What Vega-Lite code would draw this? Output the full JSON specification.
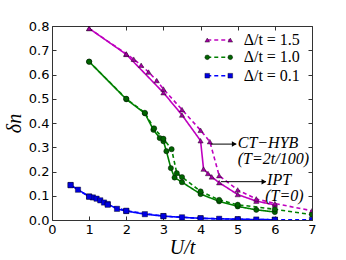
{
  "$schema": "https://vega.github.io/schema/vega-lite/v6.json",
  "autosize": "none",
  "width": 260,
  "height": 194,
  "padding": {"left": 52, "top": 26, "right": 34, "bottom": 40},
  "background": "white",
  "config": {
    "view": {"stroke": null},
    "axis": {"labelFont": "DejaVu Sans", "labelFontSize": 13, "labelColor": "black", "tickColor": "#333", "domain": true, "domainColor": "#333", "domainWidth": 1, "grid": false, "tickSize": -4, "labelPadding": 7, "labelOverlap": false, "labelFlush": false, "titleFont": "Liberation Serif", "titleFontStyle": "italic", "titleFontWeight": "normal", "titleFontSize": 20, "titleColor": "black"}
  },
  "datasets": {
    "main": [
      {"U": 1.0, "dn": 0.79, "delta": "1.5", "method": "HYB"},
      {"U": 2.0, "dn": 0.683, "delta": "1.5", "method": "HYB"},
      {"U": 3.0, "dn": 0.525, "delta": "1.5", "method": "HYB"},
      {"U": 3.5, "dn": 0.433, "delta": "1.5", "method": "HYB"},
      {"U": 4.0, "dn": 0.327, "delta": "1.5", "method": "HYB"},
      {"U": 4.08, "dn": 0.21, "delta": "1.5", "method": "HYB"},
      {"U": 4.2, "dn": 0.192, "delta": "1.5", "method": "HYB"},
      {"U": 4.3, "dn": 0.178, "delta": "1.5", "method": "HYB"},
      {"U": 4.5, "dn": 0.154, "delta": "1.5", "method": "HYB"},
      {"U": 5.0, "dn": 0.105, "delta": "1.5", "method": "HYB"},
      {"U": 5.5, "dn": 0.078, "delta": "1.5", "method": "HYB"},
      {"U": 6.0, "dn": 0.062, "delta": "1.5", "method": "HYB"},
      {"U": 1.0, "dn": 0.79, "delta": "1.5", "method": "IPT"},
      {"U": 2.0, "dn": 0.685, "delta": "1.5", "method": "IPT"},
      {"U": 2.2, "dn": 0.663, "delta": "1.5", "method": "IPT"},
      {"U": 2.4, "dn": 0.638, "delta": "1.5", "method": "IPT"},
      {"U": 2.6, "dn": 0.61, "delta": "1.5", "method": "IPT"},
      {"U": 2.82, "dn": 0.575, "delta": "1.5", "method": "IPT"},
      {"U": 3.0, "dn": 0.54, "delta": "1.5", "method": "IPT"},
      {"U": 3.5, "dn": 0.455, "delta": "1.5", "method": "IPT"},
      {"U": 4.0, "dn": 0.37, "delta": "1.5", "method": "IPT"},
      {"U": 4.25, "dn": 0.323, "delta": "1.5", "method": "IPT"},
      {"U": 4.5, "dn": 0.183, "delta": "1.5", "method": "IPT"},
      {"U": 5.0, "dn": 0.124, "delta": "1.5", "method": "IPT"},
      {"U": 5.5, "dn": 0.087, "delta": "1.5", "method": "IPT"},
      {"U": 6.0, "dn": 0.068, "delta": "1.5", "method": "IPT"},
      {"U": 7.0, "dn": 0.038, "delta": "1.5", "method": "IPT"},
      {"U": 1.0, "dn": 0.653, "delta": "1.0", "method": "HYB"},
      {"U": 2.0, "dn": 0.498, "delta": "1.0", "method": "HYB"},
      {"U": 2.5, "dn": 0.44, "delta": "1.0", "method": "HYB"},
      {"U": 2.73, "dn": 0.372, "delta": "1.0", "method": "HYB"},
      {"U": 2.9, "dn": 0.338, "delta": "1.0", "method": "HYB"},
      {"U": 3.0, "dn": 0.325, "delta": "1.0", "method": "HYB"},
      {"U": 3.08, "dn": 0.284, "delta": "1.0", "method": "HYB"},
      {"U": 3.2, "dn": 0.214, "delta": "1.0", "method": "HYB"},
      {"U": 3.3, "dn": 0.175, "delta": "1.0", "method": "HYB"},
      {"U": 3.5, "dn": 0.156, "delta": "1.0", "method": "HYB"},
      {"U": 4.0, "dn": 0.107, "delta": "1.0", "method": "HYB"},
      {"U": 4.5, "dn": 0.077, "delta": "1.0", "method": "HYB"},
      {"U": 5.0, "dn": 0.056, "delta": "1.0", "method": "HYB"},
      {"U": 5.5, "dn": 0.042, "delta": "1.0", "method": "HYB"},
      {"U": 6.0, "dn": 0.033, "delta": "1.0", "method": "HYB"},
      {"U": 1.0, "dn": 0.653, "delta": "1.0", "method": "IPT"},
      {"U": 2.0, "dn": 0.5, "delta": "1.0", "method": "IPT"},
      {"U": 2.5, "dn": 0.442, "delta": "1.0", "method": "IPT"},
      {"U": 2.75, "dn": 0.378, "delta": "1.0", "method": "IPT"},
      {"U": 3.0, "dn": 0.335, "delta": "1.0", "method": "IPT"},
      {"U": 3.22, "dn": 0.292, "delta": "1.0", "method": "IPT"},
      {"U": 3.36, "dn": 0.193, "delta": "1.0", "method": "IPT"},
      {"U": 3.5, "dn": 0.177, "delta": "1.0", "method": "IPT"},
      {"U": 4.0, "dn": 0.118, "delta": "1.0", "method": "IPT"},
      {"U": 4.5, "dn": 0.083, "delta": "1.0", "method": "IPT"},
      {"U": 5.0, "dn": 0.063, "delta": "1.0", "method": "IPT"},
      {"U": 6.0, "dn": 0.044, "delta": "1.0", "method": "IPT"},
      {"U": 7.0, "dn": 0.022, "delta": "1.0", "method": "IPT"},
      {"U": 0.5, "dn": 0.144, "delta": "0.1", "method": "HYB"},
      {"U": 0.7, "dn": 0.125, "delta": "0.1", "method": "HYB"},
      {"U": 1.0, "dn": 0.097, "delta": "0.1", "method": "HYB"},
      {"U": 1.1, "dn": 0.093, "delta": "0.1", "method": "HYB"},
      {"U": 1.2, "dn": 0.088, "delta": "0.1", "method": "HYB"},
      {"U": 1.3, "dn": 0.081, "delta": "0.1", "method": "HYB"},
      {"U": 1.4, "dn": 0.072, "delta": "0.1", "method": "HYB"},
      {"U": 1.5, "dn": 0.066, "delta": "0.1", "method": "HYB"},
      {"U": 1.75, "dn": 0.046, "delta": "0.1", "method": "HYB"},
      {"U": 2.0, "dn": 0.037, "delta": "0.1", "method": "HYB"},
      {"U": 2.5, "dn": 0.024, "delta": "0.1", "method": "HYB"},
      {"U": 3.0, "dn": 0.016, "delta": "0.1", "method": "HYB"},
      {"U": 3.5, "dn": 0.011, "delta": "0.1", "method": "HYB"},
      {"U": 4.0, "dn": 0.007, "delta": "0.1", "method": "HYB"},
      {"U": 4.5, "dn": 0.005, "delta": "0.1", "method": "HYB"},
      {"U": 5.0, "dn": 0.003, "delta": "0.1", "method": "HYB"},
      {"U": 5.5, "dn": 0.002, "delta": "0.1", "method": "HYB"},
      {"U": 6.0, "dn": 0.001, "delta": "0.1", "method": "HYB"},
      {"U": 0.5, "dn": 0.144, "delta": "0.1", "method": "IPT"},
      {"U": 1.0, "dn": 0.096, "delta": "0.1", "method": "IPT"},
      {"U": 1.5, "dn": 0.063, "delta": "0.1", "method": "IPT"},
      {"U": 2.0, "dn": 0.038, "delta": "0.1", "method": "IPT"},
      {"U": 3.0, "dn": 0.016, "delta": "0.1", "method": "IPT"},
      {"U": 4.0, "dn": 0.007, "delta": "0.1", "method": "IPT"},
      {"U": 5.0, "dn": 0.003, "delta": "0.1", "method": "IPT"},
      {"U": 6.0, "dn": 0.001, "delta": "0.1", "method": "IPT"},
      {"U": 7.0, "dn": 0.0005, "delta": "0.1", "method": "IPT"}
    ],
    "legend": [
      {"delta": "1.5", "ly": 0.742, "lx1": 4.18, "lx2": 4.8, "lt": 5.16, "label": "Δ/t = 1.5"},
      {"delta": "1.0", "ly": 0.671, "lx1": 4.18, "lx2": 4.8, "lt": 5.16, "label": "Δ/t = 1.0"},
      {"delta": "0.1", "ly": 0.595, "lx1": 4.18, "lx2": 4.8, "lt": 5.16, "label": "Δ/t = 0.1"}
    ],
    "arrows": [
      {"ax1": 4.28, "ax2": 4.96, "ay": 0.313},
      {"ax1": 4.55, "ax2": 5.76, "ay": 0.158}
    ],
    "notes": [
      {"tx": 5.0, "ty": 0.319, "label": "CT−HYB"},
      {"tx": 5.0, "ty": 0.25, "label": "(T=2t/100)"},
      {"tx": 5.79, "ty": 0.165, "label": "IPT"},
      {"tx": 5.74, "ty": 0.097, "label": "(T=0)"}
    ]
  },
  "layer": [
    {
      "layer": [
        {
          "data": {"name": "main"},
          "mark": {"type": "line", "strokeWidth": 1.6, "clip": true},
          "encoding": {
            "x": {"field": "U", "type": "quantitative", "scale": {"domain": [0, 7], "nice": false}, "axis": {"values": [0,1,2,3,4,5,6,7], "labelOverlap": false, "tickCount": 8, "title": "U/t", "titlePadding": 1}},
            "y": {"field": "dn", "type": "quantitative", "scale": {"domain": [0, 0.8], "nice": false}, "axis": {"values": [0,0.1,0.2,0.3,0.4,0.5,0.6,0.7,0.8], "labelOverlap": false, "tickCount": 9, "format": ".1f", "title": "δn", "titlePadding": 4}},
            "color": {"field": "delta", "type": "nominal", "scale": {"domain": ["1.5","1.0","0.1"], "range": ["#bf00bf","#008000","#0000ff"]}, "legend": null},
            "strokeDash": {"field": "method", "type": "nominal", "scale": {"domain": ["HYB","IPT"], "range": [[1,0],[4,3]]}, "legend": null},
            "detail": {"field": "method"}
          }
        },
        {
          "data": {"name": "main"},
          "mark": {"type": "point", "filled": true, "opacity": 1, "stroke": "black", "strokeWidth": 0.4, "clip": true},
          "encoding": {
            "x": {"field": "U", "type": "quantitative"},
            "y": {"field": "dn", "type": "quantitative"},
            "fill": {"field": "delta", "type": "nominal", "scale": {"domain": ["1.5","1.0","0.1"], "range": ["#a000a0","#006400","#0000e0"]}, "legend": null},
            "shape": {"field": "delta", "type": "nominal", "scale": {"domain": ["1.5","1.0","0.1"], "range": ["triangle-up","circle","square"]}, "legend": null},
            "size": {"value": 28}
          }
        },
        {
          "data": {"name": "legend"},
          "mark": {"type": "rule", "strokeWidth": 1.6, "strokeDash": [4,3]},
          "encoding": {
            "x": {"field": "lx1", "type": "quantitative"},
            "x2": {"field": "lx2"},
            "y": {"field": "ly", "type": "quantitative"},
            "color": {"field": "delta", "type": "nominal", "legend": null}
          }
        },
        {
          "data": {"name": "legend"},
          "mark": {"type": "point", "filled": true, "opacity": 1, "stroke": "black", "strokeWidth": 0.4},
          "encoding": {
            "x": {"field": "lx1", "type": "quantitative"},
            "y": {"field": "ly", "type": "quantitative"},
            "fill": {"field": "delta", "type": "nominal", "legend": null},
            "shape": {"field": "delta", "type": "nominal", "legend": null},
            "size": {"value": 22}
          }
        },
        {
          "data": {"name": "legend"},
          "mark": {"type": "point", "filled": true, "opacity": 1, "stroke": "black", "strokeWidth": 0.4},
          "encoding": {
            "x": {"field": "lx2", "type": "quantitative"},
            "y": {"field": "ly", "type": "quantitative"},
            "fill": {"field": "delta", "type": "nominal", "legend": null},
            "shape": {"field": "delta", "type": "nominal", "legend": null},
            "size": {"value": 22}
          }
        },
        {
          "data": {"name": "legend"},
          "mark": {"type": "text", "align": "left", "baseline": "middle", "font": "Liberation Serif", "fontSize": 16, "color": "black"},
          "encoding": {
            "x": {"field": "lt", "type": "quantitative"},
            "y": {"field": "ly", "type": "quantitative"},
            "text": {"field": "label"}
          }
        },
        {
          "data": {"name": "arrows"},
          "mark": {"type": "rule", "color": "black", "strokeWidth": 1},
          "encoding": {
            "x": {"field": "ax1", "type": "quantitative"},
            "x2": {"field": "ax2"},
            "y": {"field": "ay", "type": "quantitative"}
          }
        },
        {
          "data": {"name": "arrows"},
          "mark": {"type": "point", "shape": "triangle-right", "filled": true, "color": "black", "opacity": 1, "size": 30, "xOffset": -2},
          "encoding": {
            "x": {"field": "ax2", "type": "quantitative"},
            "y": {"field": "ay", "type": "quantitative"}
          }
        },
        {
          "data": {"name": "notes"},
          "mark": {"type": "text", "align": "left", "baseline": "middle", "font": "Liberation Serif", "fontStyle": "italic", "fontSize": 16, "color": "black"},
          "encoding": {
            "x": {"field": "tx", "type": "quantitative"},
            "y": {"field": "ty", "type": "quantitative"},
            "text": {"field": "label"}
          }
        }
      ]
    },
    {
      "data": {"name": "main"},
      "mark": {"type": "point", "opacity": 0},
      "encoding": {
        "x": {"field": "U", "type": "quantitative", "axis": {"orient": "top", "values": [0,1,2,3,4,5,6,7], "labels": false, "title": null}},
        "y": {"field": "dn", "type": "quantitative", "axis": {"orient": "right", "values": [0,0.1,0.2,0.3,0.4,0.5,0.6,0.7,0.8], "labels": false, "title": null}}
      }
    }
  ],
  "resolve": {"axis": {"x": "independent", "y": "independent"}}
}
